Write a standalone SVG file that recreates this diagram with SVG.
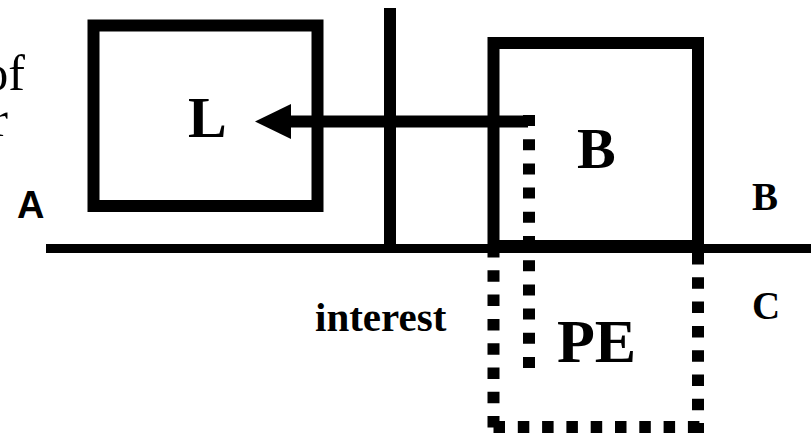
<svg xmlns="http://www.w3.org/2000/svg" width="811" height="433" viewBox="0 0 811 433">
<style>
.solid{fill:none;stroke:#000;stroke-width:12}
.dash{fill:none;stroke:#000;stroke-width:12;stroke-dasharray:11.5 12.8}
.lbl{font-family:"Liberation Serif","Times New Roman",serif;font-weight:bold;fill:#000}
.plain{font-family:"Liberation Serif","Times New Roman",serif;fill:#000}
.sans{font-family:"Liberation Sans",Arial,sans-serif;font-weight:bold;fill:#000}
</style>
<rect width="811" height="433" fill="#fff"/>
<g id="side-text">
<text class="plain" x="25" y="90" font-size="50" text-anchor="end">of</text>
<text class="plain" x="8" y="136" font-size="50" text-anchor="end">r</text>
<text class="sans" x="17" y="218" font-size="38">A</text>
<text class="lbl" x="752" y="210" font-size="39">B</text>
<text class="lbl" x="752" y="319" font-size="39">C</text>
<text class="lbl" x="315" y="331" font-size="41">interest</text>
</g>
<g id="connectors">
<line x1="46" y1="248.5" x2="811" y2="248.5" stroke="#000" stroke-width="9"/>
<line x1="390" y1="8" x2="390" y2="248" class="solid"/>
<line x1="289" y1="121.5" x2="528" y2="121.5" class="solid"/>
<polygon points="255,121.5 291,104 291,139" fill="#000"/>
<line x1="529" y1="115" x2="529" y2="368" class="dash" style="stroke-dasharray:11 13.2"/>
</g>
<g id="node-L">
<rect x="93.5" y="25.5" width="224" height="180.5" class="solid"/>
<text class="lbl" x="188" y="137" font-size="58">L</text>
</g>
<g id="node-B">
<rect x="493.5" y="43" width="204.5" height="203" class="solid"/>
<text class="lbl" x="577" y="168" font-size="58">B</text>
</g>
<g id="node-PE">
<line x1="493.5" y1="246" x2="493.5" y2="433" class="dash"/>
<line x1="493.5" y1="427" x2="705" y2="427" class="dash"/>
<line x1="698" y1="253" x2="698" y2="433" class="dash"/>
<text class="lbl" x="557" y="362" font-size="62">PE</text>
</g>
</svg>
